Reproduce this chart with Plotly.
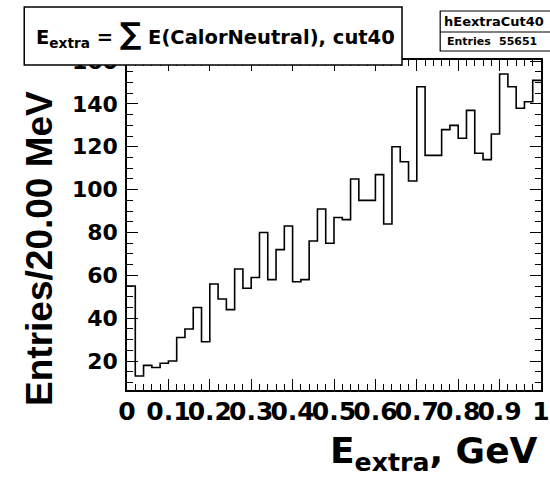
import numpy as np
import plotly.graph_objects as go

# ---- data (20 MeV bins, 0..1 GeV) ----
bin_width_gev = 0.02
x_min_gev = 0.0
counts = [55, 13, 18, 17, 19, 20, 31, 35, 45, 29,
          56, 49, 44, 63, 54, 59, 80, 58, 72, 83,
          57, 58, 76, 91, 75, 87, 86, 105, 95, 95,
          107, 84, 120, 113, 104, 148, 116, 116, 128, 130,
          124, 137, 117, 114, 126, 154, 148, 138, 141, 151]
hist_name = "hEextraCut40"
entries = 55651
title_text = "E<sub>extra</sub> = <span style=\"font-size:30px\">∑</span> E(CalorNeutral), cut40"
x_title = "E<sub>extra</sub>, GeV"
y_title = "Entries/20.00 MeV"

W, H = 550, 478
L, R, T, B = 127, 0, 60, 88
PW, PH = W - L - R, H - T - B

def px(xp):
    return (xp - L) / PW

def py(yp):
    return (H - B - yp) / PH

n = len(counts)
edges = x_min_gev + np.arange(n + 1) * bin_width_gev
xs = list(edges)
ys = list(counts) + [counts[-1]]

WIDE = "DejaVu Sans, Verdana, sans-serif"
NARROW = "Liberation Sans, Arial, sans-serif"

fig = go.Figure()
fig.add_trace(go.Scatter(x=xs, y=ys, mode="lines", line_shape="hv",
                         line=dict(color="black", width=1.6),
                         hoverinfo="skip", showlegend=False))

axis_common = dict(showline=True, linecolor="black", linewidth=1.5, mirror="ticks",
                   ticks="inside", ticklen=11, tickwidth=1.3, tickcolor="black",
                   showgrid=False, zeroline=False, tickangle=0,
                   ticklabeloverflow="allow")

fig.update_xaxes(range=[0, 1], tick0=0, dtick=0.1,
                 minor=dict(dtick=0.02, ticks="inside", ticklen=6, tickcolor="black", tickwidth=1.2),
                 ticklabelstandoff=-2,
                 tickfont=dict(family=WIDE, size=25, color="black", weight="bold"),
                 **axis_common)
fig.update_yaxes(range=[6.5, 160.5], tick0=0, dtick=20,
                 minor=dict(dtick=5, ticks="inside", ticklen=6, tickcolor="black", tickwidth=1.2),
                 ticklabelstandoff=3,
                 tickfont=dict(family=WIDE, size=22, color="black", weight="bold"),
                 **axis_common)

shapes = []
annotations = []
# title box
shapes.append(dict(type="rect", xref="paper", yref="paper",
                   x0=px(22), x1=px(408), y0=py(65), y1=py(7),
                   fillcolor="white", line=dict(color="black", width=1.5), layer="above"))
annotations.append(dict(xref="paper", yref="paper", x=px(32), y=py(34),
                        xanchor="left", yanchor="middle", showarrow=False,
                        text=title_text,
                        font=dict(family=WIDE, size=19.5, color="black", weight="bold")))
# stat box
shapes.append(dict(type="rect", xref="paper", yref="paper",
                   x0=px(447), x1=px(560), y0=py(51), y1=py(11),
                   fillcolor="white", line=dict(color="black", width=1.2), layer="above"))
shapes.append(dict(type="line", xref="paper", yref="paper",
                   x0=px(447), x1=px(560), y0=py(32), y1=py(32),
                   line=dict(color="black", width=1.2), layer="above"))
annotations.append(dict(xref="paper", yref="paper", x=px(449), y=py(21),
                        xanchor="left", yanchor="middle", showarrow=False,
                        text=hist_name,
                        font=dict(family=WIDE, size=13, color="black", weight="bold")))
annotations.append(dict(xref="paper", yref="paper", x=px(452), y=py(41.5),
                        xanchor="left", yanchor="middle", showarrow=False,
                        text="Entries",
                        font=dict(family=WIDE, size=11, color="black", weight="bold")))
annotations.append(dict(xref="paper", yref="paper", x=px(548), y=py(41.5),
                        xanchor="right", yanchor="middle", showarrow=False,
                        text=str(entries),
                        font=dict(family=WIDE, size=11, color="black", weight="bold")))
# axis titles
annotations.append(dict(xref="paper", yref="paper", x=px(37), y=py(248),
                        xanchor="center", yanchor="middle", showarrow=False,
                        textangle=-90, text=y_title,
                        font=dict(family=NARROW, size=37, color="black", weight="bold")))
annotations.append(dict(xref="paper", yref="paper", x=px(549), y=py(453),
                        xanchor="right", yanchor="middle", showarrow=False,
                        text=x_title,
                        font=dict(family=WIDE, size=36, color="black", weight="bold")))

fig.update_layout(width=W, height=H, margin=dict(l=L, r=R, t=T, b=B),
                  paper_bgcolor="white", plot_bgcolor="white",
                  shapes=shapes, annotations=annotations, showlegend=False)

fig.write_html("out.html")
